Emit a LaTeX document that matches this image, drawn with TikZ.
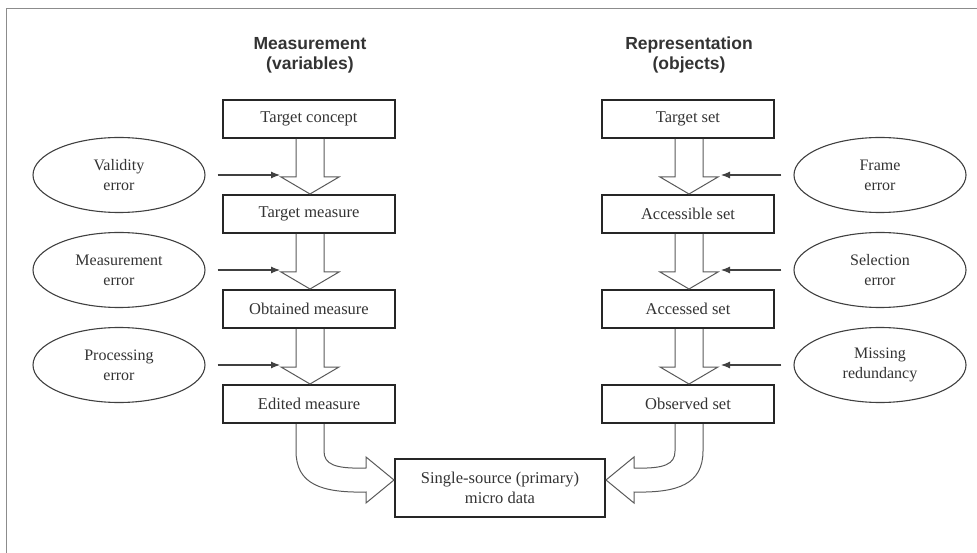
\documentclass[tikz,border=0pt]{standalone}
\usepackage{fontspec}
\setmainfont{Liberation Serif}
\newfontfamily\hdfont{Liberation Sans}
\usetikzlibrary{calc,arrows.meta,shapes.geometric}
\tikzset{
  boxnode/.style={draw=black!85, line width=2pt, minimum width=172pt, minimum height=38pt, inner sep=0pt, font=\fontsize{16.5}{20}\selectfont, text=black!80},
  errnode/.style={draw=black!75, line width=1.1pt, ellipse, minimum width=172pt, minimum height=75pt, inner sep=0pt, align=center, font=\fontsize{16}{20}\selectfont, text=black!80},
  headnode/.style={align=center, font=\hdfont\bfseries\fontsize{17.5}{20}\selectfont, text=black!80},
  harr/.style={draw=black!65, line width=1pt, line join=miter},
  sarr/.style={draw=black!75, line width=1.1pt, -{Latex[length=9pt,width=7pt]}, shorten <=12pt},
}
\newcommand\hollowarrow[3]{%
  \draw[harr] ($(#1.south)+(#3-14,0)$) -- ($(#2.north)+(#3-14,-17)$) -- ($(#2.north)+(#3-29,-17)$) -- ($(#2.north)+(#3,0)$) -- ($(#2.north)+(#3+29,-17)$) -- ($(#2.north)+(#3+14,-17)$) -- ($(#1.south)+(#3+14,0)$);}
\begin{document}
\begin{tikzpicture}[x=1pt,y=-1pt]
\useasboundingbox (0,0) rectangle (977,553);
\draw[black!45, line width=1pt] (6,553) -- (6,9) -- (977,9);

% headers
\node[headnode] (hM) at (310,55) {Measurement\\(variables)};
\node[headnode] (hR) at (689,55) {Representation\\(objects)};

% left column
\node[boxnode] (l1) at (309,119) {Target concept};
\node[boxnode] (l2) at (309,214) {Target measure};
\node[boxnode] (l3) at (309,309) {Obtained measure};
\node[boxnode] (l4) at (309,404) {Edited measure};

% right column
\node[boxnode] (r1) at (688,119) {Target set};
\node[boxnode] (r2) at (688,214) {Accessible set};
\node[boxnode] (r3) at (688,309) {Accessed set};
\node[boxnode] (r4) at (688,404) {Observed set};

% bottom
\node[boxnode, minimum width=210pt, minimum height=58pt, align=center] (s) at (500,488) {Single-source (primary)\\micro data};

% ellipses
\node[errnode] (e1) at (119,175) {Validity\\error};
\node[errnode] (e2) at (119,270) {Measurement\\error};
\node[errnode] (e3) at (119,365) {Processing\\error};
\node[errnode] (f1) at (880,175) {Frame\\error};
\node[errnode] (f2) at (880,270) {Selection\\error};
\node[errnode] (f3) at (880,365) {Missing\\redundancy};

% hollow arrows
\hollowarrow{l1}{l2}{1}
\hollowarrow{l2}{l3}{1}
\hollowarrow{l3}{l4}{1}
\hollowarrow{r1}{r2}{1}
\hollowarrow{r2}{r3}{1}
\hollowarrow{r3}{r4}{1}

% wing coordinates for small arrows
\coordinate (wl1) at ($(l2.north)+(-29,-19)$);
\coordinate (wl2) at ($(l3.north)+(-29,-19)$);
\coordinate (wl3) at ($(l4.north)+(-29,-19)$);
\coordinate (wr1) at ($(r2.north)+(33,-19)$);
\coordinate (wr2) at ($(r3.north)+(33,-19)$);
\coordinate (wr3) at ($(r4.north)+(33,-19)$);
\draw[sarr] (e1) -- (e1 -| wl1);
\draw[sarr] (e2) -- (e2 -| wl2);
\draw[sarr] (e3) -- (e3 -| wl3);
\draw[sarr] (f1) -- (f1 -| wr1);
\draw[sarr] (f2) -- (f2 -| wr2);
\draw[sarr] (f3) -- (f3 -| wr3);

% curved hollow arrows into the single-source box
\coordinate (tl) at ($(s.west)+(0,-8)$);
\coordinate (tr) at ($(s.east)+(0,-8)$);
\draw[harr] ($(l4.south)+(-13,0)$) -- ($(l4.south)+(-13,27)$)
  .. controls ($(l4.south)+(-13,60)$) and ($(l4.south)+(12,69)$) .. ($(tl)+(-28,12)$)
  -- ($(tl)+(-28,23)$) -- (tl) -- ($(tl)+(-28,-23)$) -- ($(tl)+(-28,-12)$)
  .. controls ($(l4.south)+(25,45)$) and ($(l4.south)+(15,40)$) .. ($(l4.south)+(15,27)$)
  -- ($(l4.south)+(15,0)$);
\draw[harr] ($(r4.south)+(15,0)$) -- ($(r4.south)+(15,27)$)
  .. controls ($(r4.south)+(15,60)$) and ($(r4.south)+(-10,69)$) .. ($(tr)+(28,12)$)
  -- ($(tr)+(28,23)$) -- (tr) -- ($(tr)+(28,-23)$) -- ($(tr)+(28,-12)$)
  .. controls ($(r4.south)+(-23,45)$) and ($(r4.south)+(-13,40)$) .. ($(r4.south)+(-13,27)$)
  -- ($(r4.south)+(-13,0)$);
\end{tikzpicture}
\end{document}
